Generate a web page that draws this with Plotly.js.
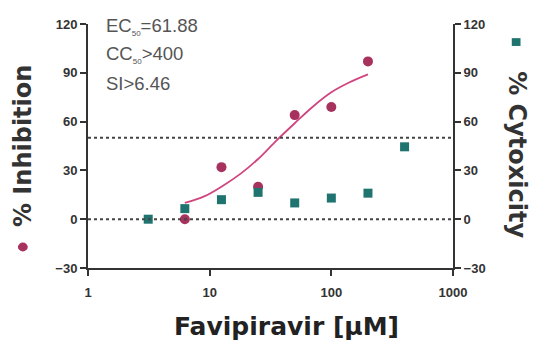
<!DOCTYPE html>
<html><head><meta charset="utf-8">
<script src="https://cdn.plot.ly/plotly-3.0.1.min.js"></script>
<style>html,body{margin:0;padding:0;background:#fff}</style>
</head><body>
<div id="chart" style="width:534px;height:343px"></div>
<script>
const concInhib = [6.25, 12.5, 25, 50, 100, 200];
const inhibition = [0, 32, 20, 64, 69, 97];
const concCyto = [3.125, 6.25, 12.5, 25, 50, 100, 200, 400];
const cytotoxicity = [0, 6.5, 12, 16.5, 10, 13, 16, 44.5];
const fitX = [6.25, 9, 12.5, 18, 25, 35, 50, 70, 100, 140, 200];
const fitY = [10, 14, 20, 28, 37, 48, 59, 69, 78, 84, 89];
const yTicks = [-30, 0, 30, 60, 90, 120];
const xTicks = [1, 10, 100, 1000];
const xTickLabels = ['1', '10', '100', '1000'];

const pink = '#a8325e', curveCol = '#d0457f', teal = '#1f7470', axisCol = '#333';
const sans = 'Liberation Sans, Arial, sans-serif';
const wide = 'DejaVu Sans, sans-serif';
const tickFont = {family: sans, size: 13, color: '#333', weight: 'bold'};

const traces = [
  {x: fitX, y: fitY, type: 'scatter', mode: 'lines', line: {color: curveCol, width: 1.8, shape: 'spline'}, hoverinfo: 'skip'},
  {x: concCyto, y: cytotoxicity, yaxis: 'y2', type: 'scatter', mode: 'markers', marker: {symbol: 'square', size: 9, color: teal}},
  {x: concInhib, y: inhibition, type: 'scatter', mode: 'markers', marker: {symbol: 'circle', size: 10, color: pink}}
];

const layout = {
  width: 534, height: 343,
  margin: {l: 88, r: 81, t: 24, b: 75},
  showlegend: false,
  plot_bgcolor: '#fff', paper_bgcolor: '#fff',
  xaxis: {type: 'log', range: [0, 3], tickvals: xTicks, ticktext: xTickLabels, ticks: 'outside', ticklen: 6, tickwidth: 2,
          ticklabelstandoff: 5,
          tickcolor: axisCol, showline: true, linecolor: axisCol, linewidth: 2, showgrid: false, zeroline: false, tickfont: tickFont},
  yaxis: {range: [-30, 120], tickvals: yTicks, ticks: 'outside', ticklen: 6, tickwidth: 2, tickcolor: axisCol,
          showline: true, linecolor: axisCol, linewidth: 2, showgrid: false, zeroline: false, tickfont: tickFont},
  yaxis2: {range: [-30, 120], tickvals: yTicks, overlaying: 'y', side: 'right', ticks: 'outside', ticklen: 6, tickwidth: 2,
           tickcolor: axisCol, showline: true, linecolor: axisCol, linewidth: 2, showgrid: false, zeroline: false, tickfont: tickFont},
  shapes: [
    {type: 'line', xref: 'paper', yref: 'y', x0: 0, x1: 1, y0: 0, y1: 0, line: {color: '#444', width: 2, dash: 'dot'}},
    {type: 'line', xref: 'paper', yref: 'y', x0: 0, x1: 1, y0: 50, y1: 50, line: {color: '#444', width: 2, dash: 'dot'}},
    {type: 'circle', xref: 'paper', yref: 'paper', x0: -0.192, x1: -0.165, y0: 0.068, y1: 0.104, fillcolor: pink, line: {width: 0}},
    {type: 'rect', xref: 'paper', yref: 'paper', x0: 1.161, x1: 1.185, y0: 0.91, y1: 0.942, fillcolor: teal, line: {width: 0}}
  ],
  annotations: [
    {text: 'EC<sub><span style="font-size:8px">50</span></sub>=61.88', xref: 'paper', yref: 'paper', x: 0.045, y: 0.988, xanchor: 'left', yanchor: 'middle', showarrow: false,
     font: {family: sans, size: 18.5, color: '#555'}},
    {text: 'CC<sub><span style="font-size:8px">50</span></sub>>400', xref: 'paper', yref: 'paper', x: 0.045, y: 0.877, xanchor: 'left', yanchor: 'middle', showarrow: false,
     font: {family: sans, size: 18.5, color: '#555'}},
    {text: 'SI>6.46', xref: 'paper', yref: 'paper', x: 0.045, y: 0.758, xanchor: 'left', yanchor: 'middle', showarrow: false,
     font: {family: sans, size: 18.5, color: '#555'}},
    {text: '% Inhibition', xref: 'paper', yref: 'paper', x: -0.178, y: 0.5, xanchor: 'center', yanchor: 'middle', textangle: -90, showarrow: false,
     font: {family: wide, size: 24, color: '#333', weight: 'bold'}},
    {text: '% Cytoxicity', xref: 'paper', yref: 'paper', x: 1.175, y: 0.463, xanchor: 'center', yanchor: 'middle', textangle: 90, showarrow: false,
     font: {family: wide, size: 24, color: '#333', weight: 'bold'}},
    {text: 'Favipiravir [µM]', xref: 'paper', yref: 'paper', x: 0.545, y: -0.24, xanchor: 'center', yanchor: 'middle', showarrow: false,
     font: {family: wide, size: 25, color: '#222', weight: 'bold'}}
  ]
};
Plotly.newPlot('chart', traces, layout, {staticPlot: true});
</script>
</body></html>
